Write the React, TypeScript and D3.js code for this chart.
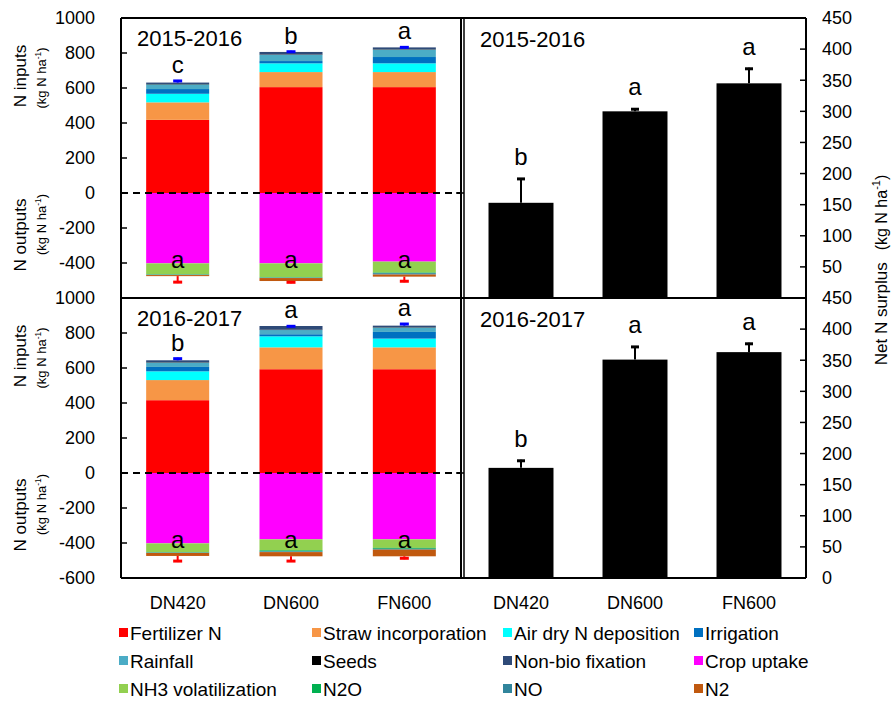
import React from "react";
import * as d3 from "d3";

// Treatments
const categories = ["DN420", "DN600", "FN600"];
const periods = ["2015-2016", "2016-2017"];

// Input / output component names and fills
const inputNames = ["Fertilizer N", "Straw incorporation", "Air dry N deposition", "Irrigation", "Rainfall", "Seeds", "Non-bio fixation"];
const inputColors = ["#FF0000", "#F79646", "#00FFFF", "#0070C0", "#4BACC6", "#000000", "#2E4A78"];
const outputNames = ["Crop uptake", "NH3 volatilization", "N2O", "NO", "N2"];
const outputColors = ["#FF00FF", "#92D050", "#00B050", "#31859C", "#C0590F"];

// 2015-2016 N inputs (kg N/ha), one value per treatment
const fertilizer1516 = [418, 605, 605];
const straw1516 = [100, 86, 86];
const airDep1516 = [49, 50, 50];
const irrigation1516 = [27, 13, 36];
const rainfall1516 = [27, 36, 42];
const seeds1516 = [2, 2, 2];
const nonBio1516 = [8, 14, 11];
const inputErr1516 = [15, 7, 6];

// 2015-2016 N outputs
const cropUptake1516 = [402, 402, 392];
const nh31516 = [63, 80, 63];
const n2o1516 = [2, 2, 3];
const no1516 = [2, 2, 8];
const n21516 = [6, 17, 12];
const outputErr1516 = [40, 13, 32];

// 2016-2017 N inputs
const fertilizer1617 = [416, 593, 593];
const straw1617 = [115, 125, 125];
const airDep1617 = [50, 63, 50];
const irrigation1617 = [25, 12, 38];
const rainfall1617 = [25, 24, 25];
const seeds1617 = [2, 2, 2];
const nonBio1617 = [11, 21, 9];
const inputErr1617 = [15, 4, 15];

// 2016-2017 N outputs
const cropUptake1617 = [402, 379, 379];
const nh31617 = [51, 63, 49];
const n2o1617 = [2, 6, 5];
const no1617 = [2, 4, 5];
const n21617 = [17, 24, 38];
const outputErr1617 = [35, 33, 17];

// Net N surplus (kg N/ha)
const surplus1516 = [153, 300, 345];
const surplusErr1516 = [40, 5, 25];
const surplus1617 = [177, 351, 363];
const surplusErr1617 = [13, 22, 15];

// Significance letters
const inputLetters1516 = ["c", "b", "a"];
const outputLetters1516 = ["a", "a", "a"];
const surplusLetters1516 = ["b", "a", "a"];
const inputLetters1617 = ["b", "a", "a"];
const outputLetters1617 = ["a", "a", "a"];
const surplusLetters1617 = ["b", "a", "a"];

const balanceTicks = [1000, 800, 600, 400, 200, 0, -200, -400, -600];
const surplusTicks = [450, 400, 350, 300, 250, 200, 150, 100, 50, 0];

const FONT = "Liberation Sans, Arial, sans-serif";

const panels = [
  {
    period: periods[0],
    inputs: [fertilizer1516, straw1516, airDep1516, irrigation1516, rainfall1516, seeds1516, nonBio1516],
    inputErr: inputErr1516,
    outputs: [cropUptake1516, nh31516, n2o1516, no1516, n21516],
    outputErr: outputErr1516,
    surplus: surplus1516,
    surplusErr: surplusErr1516,
    inLetters: inputLetters1516,
    outLetters: outputLetters1516,
    surLetters: surplusLetters1516,
    top: 18,
    bottom: 298,
  },
  {
    period: periods[1],
    inputs: [fertilizer1617, straw1617, airDep1617, irrigation1617, rainfall1617, seeds1617, nonBio1617],
    inputErr: inputErr1617,
    outputs: [cropUptake1617, nh31617, n2o1617, no1617, n21617],
    outputErr: outputErr1617,
    surplus: surplus1617,
    surplusErr: surplusErr1617,
    inLetters: inputLetters1617,
    outLetters: outputLetters1617,
    surLetters: surplusLetters1617,
    top: 298,
    bottom: 578,
  },
];

const leftX0 = 121;
const leftX1 = 461;
const rightX0 = 464;
const rightX1 = 806;

const xLeft = d3.scaleBand<string>().domain(categories).range([leftX0, leftX1]).paddingInner(0.444).paddingOuter(0.222);
const xRight = d3.scaleBand<string>().domain(categories).range([rightX0, rightX1]).paddingInner(0.43).paddingOuter(0.215);

function Unit({ x, y, size }: { x: number; y: number; size: number }) {
  return (
    <text x={x} y={y} transform={`rotate(-90 ${x} ${y})`} textAnchor="middle" fontSize={size} fontFamily={FONT} fill="#000">
      (kg N ha
      <tspan fontSize={size * 0.65} dy={-size * 0.4}>-1</tspan>
      <tspan dy={size * 0.4}>)</tspan>
    </text>
  );
}

function Panel({ p }: { p: (typeof panels)[number] }) {
  const yBal = d3.scaleLinear().domain([-600, 1000]).range([p.bottom, p.top]);
  const ySur = d3.scaleLinear().domain([0, 450]).range([p.bottom, p.top]);
  const bw = xLeft.bandwidth();
  const rbw = xRight.bandwidth();

  const inStack = d3.stack<number>().keys(d3.range(inputNames.length).map(String))
    .value((i, k) => p.inputs[+k][i])(d3.range(categories.length));
  const outStack = d3.stack<number>().keys(d3.range(outputNames.length).map(String))
    .value((i, k) => -p.outputs[+k][i]).offset(d3.stackOffsetDiverging)(d3.range(categories.length));

  const inTotals = categories.map((_, i) => d3.sum(p.inputs, (s) => s[i]));
  const outTotals = categories.map((_, i) => d3.sum(p.outputs, (s) => s[i]));

  const segRect = (d: number[], i: number) => {
    const a = yBal(Math.max(d[0], d[1]));
    const b = yBal(Math.min(d[0], d[1]));
    return <rect key={i} x={xLeft(categories[i])} y={a} width={bw} height={Math.max(0, b - a)} />;
  };

  return (
    <g>
      {/* stacked inputs */}
      {inStack.map((layer, k) => (
        <g key={"in" + k} fill={inputColors[k]}>
          {layer.map((d, i) => segRect(d as unknown as number[], i))}
        </g>
      ))}
      {/* stacked outputs */}
      {outStack.map((layer, k) => (
        <g key={"out" + k} fill={outputColors[k]}>
          {layer.map((d, i) => segRect(d as unknown as number[], i))}
        </g>
      ))}
      {/* input error bars */}
      {categories.map((c, i) => {
        const cx = (xLeft(c) as number) + bw / 2;
        const y0 = yBal(inTotals[i]);
        const y1 = yBal(inTotals[i] + p.inputErr[i]);
        return (
          <g key={"ie" + i} stroke="#0000FF">
            <line x1={cx} x2={cx} y1={y0} y2={y1} strokeWidth={2} />
            <line x1={cx - 4.5} x2={cx + 4.5} y1={y1 + 1} y2={y1 + 1} strokeWidth={3} />
          </g>
        );
      })}
      {/* output error bars */}
      {categories.map((c, i) => {
        const cx = (xLeft(c) as number) + bw / 2;
        const y0 = yBal(-outTotals[i]);
        const y1 = yBal(-outTotals[i] - p.outputErr[i]);
        return (
          <g key={"oe" + i} stroke="#FF0000">
            <line x1={cx} x2={cx} y1={y0} y2={y1} strokeWidth={2} />
            <line x1={cx - 4.5} x2={cx + 4.5} y1={y1 - 1} y2={y1 - 1} strokeWidth={3} />
          </g>
        );
      })}
      {/* letters */}
      {categories.map((c, i) => {
        const cx = (xLeft(c) as number) + bw / 2;
        return (
          <g key={"lt" + i} fontFamily={FONT} fontSize={24} textAnchor="middle" fill="#000">
            <text x={cx} y={yBal(inTotals[i] + p.inputErr[i]) - 7}>{p.inLetters[i]}</text>
            <text x={cx} y={yBal(-430)}>{p.outLetters[i]}</text>
          </g>
        );
      })}
      {/* zero line */}
      <line x1={leftX0} x2={leftX1} y1={yBal(0)} y2={yBal(0)} stroke="#000" strokeWidth={2} strokeDasharray="7,5" />

      {/* net surplus bars */}
      {categories.map((c, i) => {
        const x = xRight(c) as number;
        const cx = x + rbw / 2;
        const yTop = ySur(p.surplus[i]);
        const yErr = ySur(p.surplus[i] + p.surplusErr[i]);
        return (
          <g key={"s" + i}>
            <rect x={x} y={yTop} width={rbw} height={ySur(0) - yTop} fill="#000" />
            <line x1={cx} x2={cx} y1={yTop} y2={yErr} stroke="#000" strokeWidth={2} />
            <line x1={cx - 4} x2={cx + 4} y1={yErr + 1} y2={yErr + 1} stroke="#000" strokeWidth={3} />
            <text x={cx} y={yErr - 13} textAnchor="middle" fontFamily={FONT} fontSize={24} fill="#000">{p.surLetters[i]}</text>
          </g>
        );
      })}

      {/* left axis ticks and labels */}
      {balanceTicks.map((t) => (
        <g key={"bt" + t}>
          <line x1={leftX0} x2={leftX0 + 6} y1={yBal(t)} y2={yBal(t)} stroke="#000" strokeWidth={1.5} />
          {!(t === -600 && p.top === 18) && (
            <text x={95} y={yBal(t)} dy="0.35em" textAnchor="end" fontFamily={FONT} fontSize={18} fill="#000">{t}</text>
          )}
        </g>
      ))}
      {/* right axis ticks and labels */}
      {surplusTicks.map((t) => (
        <g key={"st" + t}>
          <line x1={rightX1 - 6} x2={rightX1} y1={ySur(t)} y2={ySur(t)} stroke="#000" strokeWidth={1.5} />
          {!(t === 0 && p.top === 18) && (
            <text x={822} y={ySur(t)} dy="0.35em" textAnchor="start" fontFamily={FONT} fontSize={18} fill="#000">{t}</text>
          )}
        </g>
      ))}
      <line x1={rightX0 - 8} x2={rightX0} y1={yBal(0)} y2={yBal(0)} stroke="#000" strokeWidth={1.5} />

      {/* period labels */}
      <text x={137} y={p.top + 28} fontFamily={FONT} fontSize={22} fill="#000">{p.period}</text>
      <text x={480} y={p.top + 29} fontFamily={FONT} fontSize={22} fill="#000">{p.period}</text>

      {/* axis titles */}
      <text x={26} y={(yBal(1000) + yBal(200)) / 2 - 12} transform={`rotate(-90 26 ${(yBal(1000) + yBal(200)) / 2 - 12})`} textAnchor="middle" fontFamily={FONT} fontSize={17} fill="#000">N inputs</text>
      <Unit x={46} y={(yBal(1000) + yBal(200)) / 2 - 10} size={13} />
      <text x={26} y={yBal(-240)} transform={`rotate(-90 26 ${yBal(-240)})`} textAnchor="middle" fontFamily={FONT} fontSize={17} fill="#000">N outputs</text>
      <Unit x={46} y={yBal(-180)} size={13} />
    </g>
  );
}

export default function App() {
  const legendItems = [
    ...inputNames.map((n, i) => ({ name: n, color: inputColors[i] })),
    ...outputNames.map((n, i) => ({ name: n, color: outputColors[i] })),
  ];
  const legendX = [119, 312, 503, 694];
  const legendY = [633, 661, 689];

  return (
    <svg width={896} height={706} style={{ position: "absolute", left: 0, top: 0, background: "#fff" }}>
      <rect width={896} height={706} fill="#fff" />
      {panels.map((p) => (
        <Panel key={p.period} p={p} />
      ))}

      {/* frames */}
      <g stroke="#000" fill="none" strokeWidth={2}>
        <line x1={leftX0} x2={rightX1} y1={18} y2={18} />
        <line x1={leftX0} x2={rightX1} y1={298} y2={298} />
        <line x1={leftX0} x2={rightX1} y1={578} y2={578} />
        <line x1={leftX0} x2={leftX0} y1={18} y2={578} />
        <line x1={rightX1} x2={rightX1} y1={18} y2={578} />
        <line x1={leftX1} x2={leftX1} y1={18} y2={578} />
        <line x1={rightX0} x2={rightX0} y1={18} y2={578} strokeWidth={1.5} />
      </g>

      {/* category labels */}
      {categories.map((c) => (
        <g key={c} fontFamily={FONT} fontSize={18} textAnchor="middle" fill="#000">
          <text x={(xLeft(c) as number) + xLeft.bandwidth() / 2} y={609}>{c}</text>
          <text x={(xRight(c) as number) + xRight.bandwidth() / 2} y={609}>{c}</text>
        </g>
      ))}

      {/* right axis title */}
      <text x={887} y={270} transform="rotate(-90 887 270)" textAnchor="middle" fontFamily={FONT} fontSize={17} fill="#000">
        Net N surplus
        <tspan dx={12} fontSize={16}>(kg N ha</tspan>
        <tspan fontSize={11} dy={-7}>-1</tspan>
        <tspan fontSize={16} dy={7}>)</tspan>
      </text>

      {/* legend */}
      {legendItems.map((it, i) => {
        const x = legendX[i % 4];
        const y = legendY[Math.floor(i / 4)];
        return (
          <g key={it.name}>
            <rect x={x} y={y - 5} width={9} height={9} fill={it.color} />
            <text x={x + 11} y={y} dy="0.35em" fontFamily={FONT} fontSize={19} fill="#000">{it.name}</text>
          </g>
        );
      })}
    </svg>
  );
}
